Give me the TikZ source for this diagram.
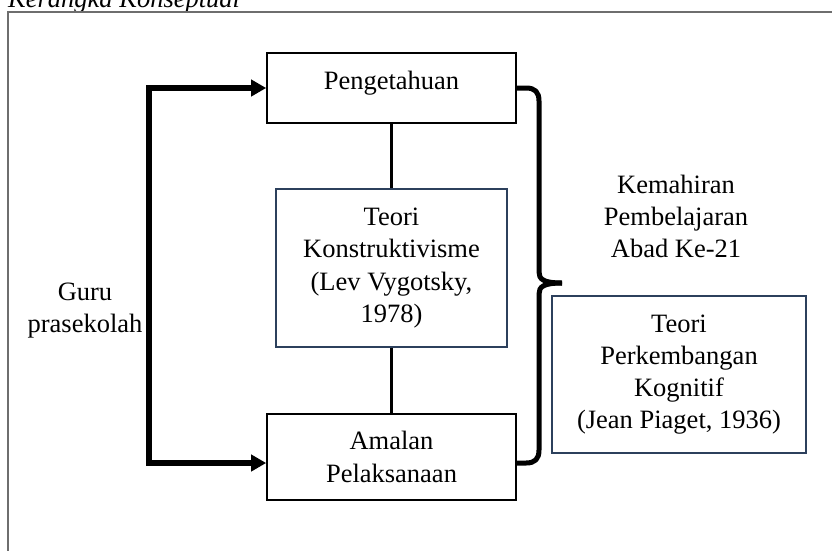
\documentclass[tikz,border=0pt]{standalone}
\usepackage{fontspec}
\setmainfont{Liberation Serif}
\usetikzlibrary{arrows.meta}
\definecolor{slate}{RGB}{44,64,92}
\definecolor{framegray}{RGB}{110,110,110}
\tikzset{
  txt/.style={font=\fontsize{26.5pt}{32.2pt}\selectfont, align=center, inner sep=0pt},
  blackbox/.style={txt, draw=black, line width=1.6pt, minimum width=249pt},
  bluebox/.style={txt, draw=slate, line width=1.4pt},
  link/.style={line width=3.5pt},
  bigarrow/.style={line width=5.5pt, {Triangle[length=15pt,width=16pt]}-{Triangle[length=15pt,width=16pt]}},
  bracket/.style={line width=5pt, line join=round},
}
\begin{document}
\begin{tikzpicture}[x=1pt,y=-1pt]
\useasboundingbox (0,0) rectangle (832,550);
\clip (0,0) rectangle (832,550);
% frame and caption
\node[txt, anchor=base west, font=\fontsize{26.5pt}{32.2pt}\selectfont\itshape] (cap) at (8,7) {Kerangka Konseptual};
\draw[framegray, line width=1.3pt] (845,12) -- (8,12) -- (8,560);
% boxes
\node[blackbox, minimum height=70pt, text height=18pt, text depth=16pt] (peng) at (391.5,88) {Pengetahuan};
\node[blackbox, minimum height=86pt] (amal) at (391.5,457) {Amalan\\Pelaksanaan};
\node[bluebox, minimum width=231pt, minimum height=158pt] (teori) at (391.5,268) {Teori\\Konstruktivisme\\(Lev Vygotsky,\\1978)};
\node[bluebox, minimum width=254pt, minimum height=157pt] (piaget) at (679,374.5) {Teori\\Perkembangan\\Kognitif\\(Jean Piaget, 1936)};
% free labels
\node[txt, anchor=north] (kem) at (676,175) {Kemahiran\\Pembelajaran\\Abad Ke-21};
\node[txt, anchor=north] (guru) at (85,282.5) {Guru\\prasekolah};
% vertical links
\draw[link] (peng) -- (teori);
\draw[link] (teori) -- (amal);
% left double arrow
\coordinate (lt) at (149,88);
\coordinate (lb) at (149,463);
\draw[bigarrow] (peng.west) -- (lt) -- (lb) -- ([yshift=-6pt]amal.west);
% right brace
\coordinate (btop) at (516,88);
\coordinate (bbot) at (516,463);
\coordinate (tip) at (562,283);
\draw[bracket] (btop) -- (526,88) .. controls (535,88) and (539,92) .. (539,101)
  -- (539,272) .. controls (539,279) and (543,283) .. (tip);
\draw[bracket] (tip) .. controls (543,283) and (539,287) .. (539,294)
  -- (539,450) .. controls (539,459) and (535,463) .. (526,463) -- (bbot);
\end{tikzpicture}
\end{document}
